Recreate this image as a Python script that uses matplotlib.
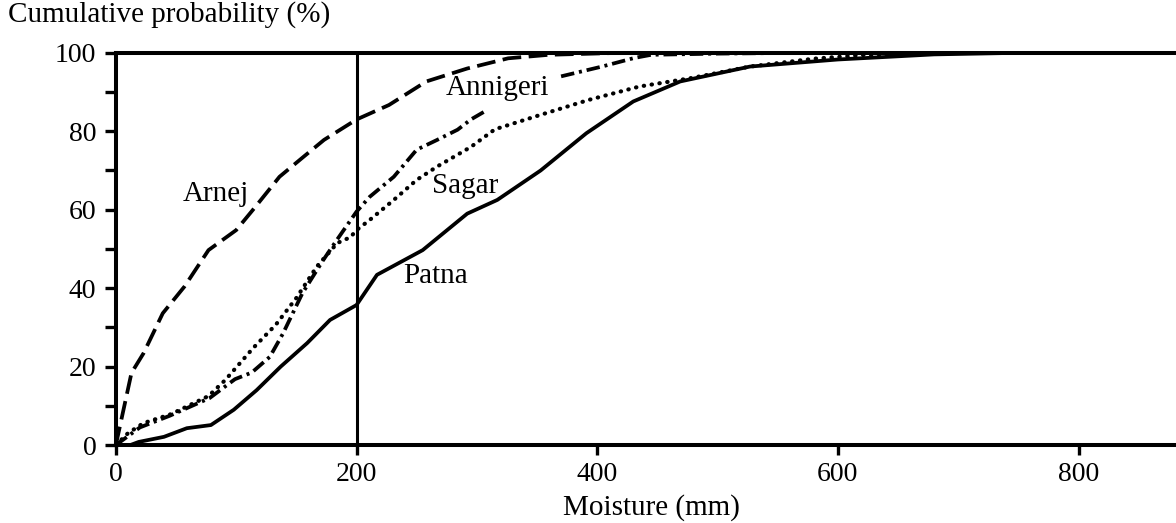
import matplotlib.pyplot as plt
import numpy as np

plt.rcParams['font.family'] = ['Liberation Serif', 'DejaVu Serif']

# cumulative probability (%) vs moisture (mm)
arnej_x = [0, 13, 23, 39, 57, 77, 100, 114, 136, 156, 173, 200, 227, 258, 292, 326, 360, 420, 500, 600, 881]
arnej_y = [0, 18.4, 23.4, 33.6, 40.4, 49.7, 54.8, 60, 68.4, 73.5, 77.8, 83, 86.7, 92.7, 96, 98.6, 99.5, 100, 100, 100, 100]

annigeri_x = [0, 20, 45, 78, 99, 113, 128, 139, 155, 172, 183, 200, 211, 231, 250, 267, 284, 295, 309,
              np.nan, 370, 404, 431, 445, 500, 570, 881]
annigeri_y = [0, 4.5, 7.5, 12, 16.8, 18.5, 22.5, 28.5, 38.7, 47, 52, 59.5, 63.3, 68.4, 75.3, 77.8, 80.4, 83, 85.5,
              np.nan, 94, 96.5, 98.7, 99.5, 99.8, 100, 100]

sagar_x = [0, 10, 23, 46, 77, 91, 114, 133, 150, 167, 184, 195, 200, 211, 231, 250, 267, 295, 315, 351, 393,
           435, 477, 527, 580, 624, 700, 881]
sagar_y = [0, 3, 5.6, 7.9, 12.5, 16.6, 24.7, 30.7, 37.5, 45.5, 51.5, 53, 54.8, 57.4, 62.5, 67.6, 71, 76, 80.5,
           84, 88, 91.4, 93.5, 96.5, 98.5, 99.5, 100, 100]

patna_x = [12, 19, 40, 59, 79, 98, 117, 137, 159, 178, 200, 217, 255, 292, 317, 353, 391, 430, 469, 527,
           600, 680, 750, 881]
patna_y = [0, 0.8, 2.1, 4.3, 5.1, 9, 14, 20, 26, 31.9, 35.7, 43.4, 49.7, 59, 62.5, 70, 79.5, 87.6, 92.7, 96.5,
           98.3, 99.6, 100, 100]

fig = plt.figure(figsize=(11.76, 5.23), dpi=100)
ax = fig.add_axes([0.0985, 0.149, 0.9015, 0.750])

ax.plot(arnej_x, arnej_y, color='black', lw=2.7, linestyle=(0, (5.0, 2.0)))
ax.plot(annigeri_x, annigeri_y, color='black', lw=2.7, linestyle=(0, (3.6, 1.3, 0.8, 1.3)))
ax.plot(sagar_x, sagar_y, color='black', lw=3.0, linestyle=(0, (0.1, 1.8)), dash_capstyle='round')
ax.plot(patna_x, patna_y, color='black', lw=2.7)
ax.plot([200, 200], [0, 100], color='black', lw=2.2)

ax.text(83, 64, 'Arnej', fontsize=21, ha='center', va='center')
ax.text(317, 91, 'Annigeri', fontsize=21, ha='center', va='center')
ax.text(290, 66, 'Sagar', fontsize=21, ha='center', va='center')
ax.text(266, 43, 'Patna', fontsize=21, ha='center', va='center')

ax.set_xlim(0, 881)
ax.set_ylim(0, 100)
ax.set_xticks([0, 200, 400, 600, 800])
ax.set_yticks([0, 20, 40, 60, 80, 100])
ax.set_yticks([10, 30, 50, 70, 90], minor=True)
ax.tick_params(axis='both', which='both', direction='out', width=2.4, labelsize=20, color='black')
ax.tick_params(axis='y', which='both', length=8, pad=6)
ax.tick_params(axis='x', which='major', length=7, pad=5)

ax.spines['right'].set_visible(False)
for s in ['left', 'bottom', 'top']:
    ax.spines[s].set_linewidth(2.9)

fig.text(0.554, 0.016, 'Moisture (mm)', fontsize=21, ha='center', va='baseline')
fig.text(0.007, 0.958, 'Cumulative probability (%)', fontsize=21, ha='left', va='baseline')

fig.savefig('out.png', dpi=100)
